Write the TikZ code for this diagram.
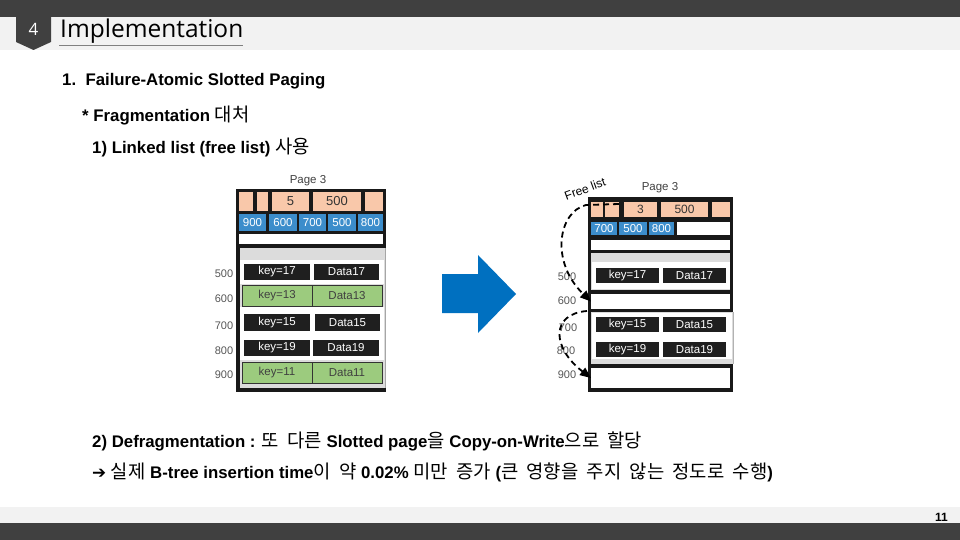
\documentclass[tikz,border=0pt]{standalone}
\usepackage{fontspec}
\setmainfont{Liberation Sans}
\newfontfamily\kr{Noto Sans CJK KR}
\newfontfamily\titlefont{Open Sans}
\newfontfamily\symfont{DejaVu Sans}
\usetikzlibrary{arrows.meta}
\definecolor{darkbar}{HTML}{404040}
\definecolor{lightband}{HTML}{F2F2F2}
\definecolor{peach}{HTML}{F9C8AA}
\definecolor{cellblue}{HTML}{3C8DCB}
\definecolor{cellgreen}{HTML}{9CCB7E}
\definecolor{panelgray}{HTML}{DCDCDC}
\definecolor{arrowblue}{HTML}{0070C0}
\definecolor{labelgray}{HTML}{555555}
\newcommand\K[1]{{\kr\mdseries\fontsize{18.8}{20}\selectfont\spaceskip=0.44em\relax #1}}
\newcommand\cellat[7]{%
  \pgfmathsetmacro\mycw{#5-#3}\pgfmathsetmacro\mych{#6-#4}%
  \node[#1, anchor=north west, minimum width=\mycw pt, minimum height=\mych pt] (#2) at (#3,#4) {#7};}
\tikzset{
  cell/.style={inner sep=0pt, outer sep=0pt, font=\fontsize{11.5}{11.5}\selectfont},
  peachcell/.style={cell, fill=peach, text=black!80},
  bluecell/.style={cell, fill=cellblue, text=white},
  blackcell/.style={cell, fill=black!88, text=white},
  greencell/.style={cell, fill=cellgreen, draw=black!80, line width=0.8pt, text=black!75},
  whitecell/.style={cell, fill=white},
  rowlabel/.style={font=\fontsize{11}{11}\selectfont, text=labelgray, inner sep=0pt},
  pagelabel/.style={font=\fontsize{11.5}{11.5}\selectfont, text=black!75, inner sep=0pt},
  freearrow/.style={line width=1.8pt, dash pattern=on 6pt off 4pt, -{Triangle[length=11pt,width=9pt]}},
  mainline/.style={anchor=base west, inner sep=0pt, font=\bfseries\fontsize{16.8}{20}\selectfont},
}
\begin{document}
\begin{tikzpicture}[x=1pt,y=-1pt]
\useasboundingbox (0,0) rectangle (960,540);
% header
\fill[darkbar] (0,0) rectangle (960,17);
\fill[lightband] (0,17) rectangle (960,50);
\fill[darkbar] (16,17) -- (51,17) -- (51,42) -- (33.5,50) -- (16,42) -- cycle;
\node[text=white, font=\titlefont\fontsize{17}{17}\selectfont] (num) at (33.5,29) {4};
\node[anchor=base west, inner sep=0pt, font=\titlefont\fontsize{24.5}{24.5}\selectfont] (title) at (60,38) {Implementation};
\draw[black!50, line width=0.8pt] (59,45) -- (243,45);
% footer
\fill[lightband] (0,507) rectangle (960,523);
\fill[darkbar] (0,523) rectangle (960,540);
\node[anchor=base east, inner sep=0pt, font=\bfseries\fontsize{12}{12}\selectfont] (pg) at (948,521) {11};
% text lines
\node[mainline] (t1) at (62,86) {1.\ \ Failure-Atomic Slotted Paging};
\node[mainline] (t2) at (82,122) {* Fragmentation \K{대처}};
\node[mainline] (t3) at (92,154) {1) Linked list (free list) \K{사용}};
\node[mainline] (t4) at (92,447) {2) Defragmentation : \K{또 다른} Slotted page\K{을} Copy-on-Write\K{으로 할당}};
\node[mainline] (t5) at (92,478) {{\symfont\mdseries ➔} \K{실제} B-tree insertion time\K{이 약} 0.02\% \K{미만 증가} (\K{큰 영향을 주지 않는 정도로 수행})};
% ---------- left page ----------
\node[pagelabel] (lpage) at (308,181) {Page 3};
\fill[black!90] (236,189) rectangle (386,248);
\fill[black!90] (236,248) rectangle (239.5,392);
\fill[black!90] (236,388) rectangle (386,392);
\fill[panelgray] (239.5,248) rectangle (385,388);
\draw[black!35, line width=0.6pt] (385,248) -- (385,388);
\fill[white] (240,260) rectangle (384,284);
\fill[white] (240,307) rectangle (384,360);
\cellat{peachcell}{lp1}{239}{192}{253}{211}{}
\cellat{peachcell}{lp2}{257}{192}{268}{211}{}
\cellat{peachcell}{lp3}{272}{192}{309}{211}{\fontsize{13}{13}\selectfont 5}
\cellat{peachcell}{lp4}{313}{192}{361}{211}{\fontsize{13}{13}\selectfont 500}
\cellat{peachcell}{lp5}{365}{192}{383}{211}{}
\cellat{bluecell}{lb1}{239}{214}{266}{231}{900}
\cellat{bluecell}{lb2}{269}{214}{297}{231}{600}
\cellat{bluecell}{lb3}{299}{214}{326}{231}{700}
\cellat{bluecell}{lb4}{328}{214}{356}{231}{500}
\cellat{bluecell}{lb5}{358}{214}{383}{231}{800}
\cellat{whitecell}{lw}{239}{234}{383}{244}{}
\cellat{blackcell}{lk17}{244}{264}{310}{280}{key=17}
\cellat{blackcell}{ld17}{314}{264}{379}{280}{Data17}
\cellat{greencell}{lk13}{242}{285}{312}{306}{key=13}
\cellat{greencell}{ld13}{312}{285}{382}{306}{Data13}
\cellat{blackcell}{lk15}{244}{314}{310}{331}{key=15}
\cellat{blackcell}{ld15}{315}{314}{380}{331}{Data15}
\cellat{blackcell}{lk19}{244}{340}{310}{356}{key=19}
\cellat{blackcell}{ld19}{313}{340}{379}{356}{Data19}
\cellat{greencell}{lk11}{242}{362}{312}{383}{key=11}
\cellat{greencell}{ld11}{312}{362}{382}{383}{Data11}
\node[rowlabel] (ll500) at (224,274) {500};
\node[rowlabel] (ll600) at (224,299) {600};
\node[rowlabel] (ll700) at (224,326) {700};
\node[rowlabel] (ll800) at (224,351) {800};
\node[rowlabel] (ll900) at (224,375) {900};
% ---------- arrow ----------
\fill[arrowblue] (442,274) -- (478,274) -- (478,255) -- (516,294) -- (478,333) -- (478,313) -- (442,313) -- cycle;
% ---------- right page ----------
\node[pagelabel] (rpage) at (660,188) {Page 3};
\node[rotate=20, inner sep=0pt, font=\fontsize{12}{12}\selectfont] (fl) at (585,189) {Free list};
\fill[black!90] (588,197) rectangle (733,392);
\fill[panelgray] (591,253) rectangle (730,290);
\fill[white] (592,262) rectangle (730,289);
\fill[panelgray] (591,312) rectangle (733,364);
\fill[white] (592,313) rectangle (732,359);
\draw[black!30, line width=0.6pt] (733,312) -- (733,364);
\cellat{peachcell}{rp1}{591}{202}{603}{217}{}
\cellat{peachcell}{rp2}{605}{202}{619}{217}{}
\cellat{peachcell}{rp3}{624}{202}{657}{217}{\fontsize{12}{12}\selectfont 3}
\cellat{peachcell}{rp4}{661}{202}{708}{217}{\fontsize{12}{12}\selectfont 500}
\cellat{peachcell}{rp5}{712}{202}{730}{217}{}
\cellat{bluecell}{rb1}{591}{222}{617}{235}{700}
\cellat{bluecell}{rb2}{619}{222}{647}{235}{500}
\cellat{bluecell}{rb3}{649}{222}{674}{235}{800}
\cellat{whitecell}{rb4}{677}{222}{730}{235}{}
\cellat{whitecell}{rw}{591}{240}{730}{250}{}
\cellat{blackcell}{rk17}{596}{268}{659}{283}{key=17}
\cellat{blackcell}{rd17}{663}{268}{726}{283}{Data17}
\cellat{whitecell}{r600}{591}{294}{730}{309}{}
\cellat{blackcell}{rk15}{596}{317}{659}{332}{key=15}
\cellat{blackcell}{rd15}{663}{317}{726}{332}{Data15}
\cellat{blackcell}{rk19}{596}{342}{659}{357}{key=19}
\cellat{blackcell}{rd19}{663}{342}{726}{357}{Data19}
\cellat{whitecell}{r900}{591}{368}{730}{388}{}
\node[rowlabel] (rl500) at (567,277) {500};
\node[rowlabel] (rl600) at (567,301) {600};
\node[rowlabel] (rl700) at (568,328) {700};
\node[rowlabel] (rl800) at (566,351) {800};
\node[rowlabel] (rl900) at (567,375) {900};
\coordinate (fs1) at (619,204);
\coordinate (fb1) at (586,205);
\coordinate (fs2) at (587,311);
\draw[freearrow] (fs1) -- (fb1) .. controls (558,212) and (550,262) .. (r600.west);
\draw[freearrow] (fs2) .. controls (550,314) and (552,348) .. (r900.west);
\end{tikzpicture}
\end{document}
